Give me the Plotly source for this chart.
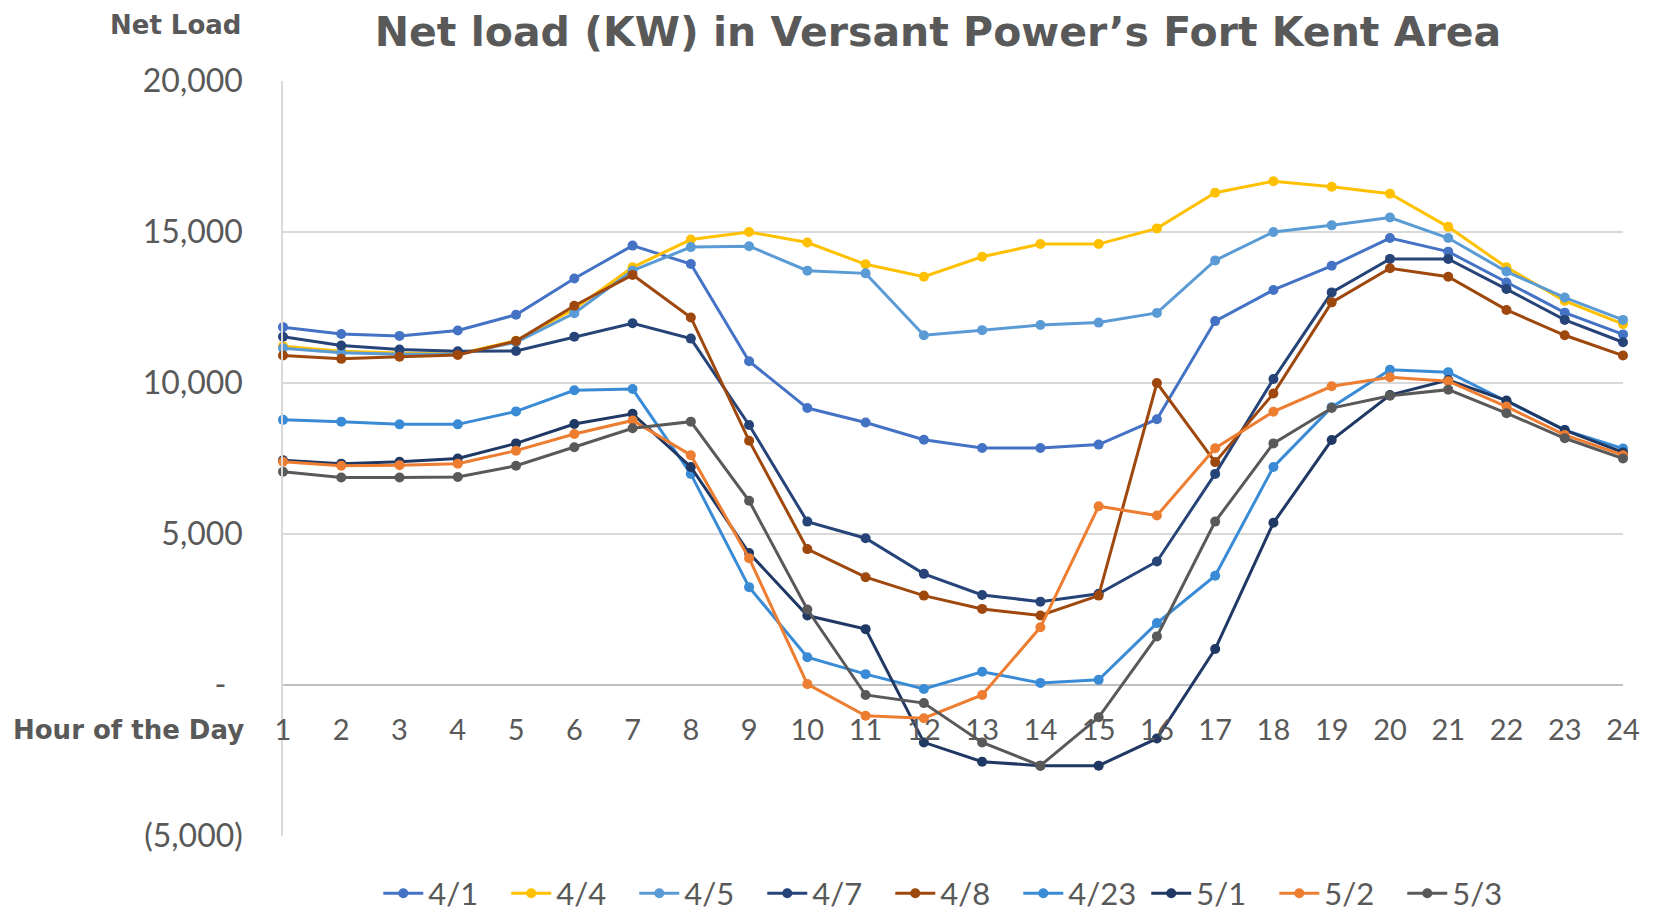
import plotly.graph_objects as go

hours = list(range(1, 25))

dates = ["4/1", "4/4", "4/5", "4/7", "4/8", "4/23", "5/1", "5/2", "5/3"]

load_4_1 = [11850, 11620, 11560, 11740, 12260, 13460, 14550, 13940, 10720, 9170, 8690, 8120,
            7850, 7850, 7960, 8800, 12050, 13080, 13880, 14800, 14350, 13330, 12330, 11610]
load_4_4 = [11220, 11050, 10990, 10960, 11400, 12450, 13830, 14750, 15000, 14650, 13930, 13520,
            14180, 14600, 14600, 15120, 16300, 16680, 16500, 16270, 15170, 13830, 12720, 11950]
load_4_5 = [11150, 11000, 10950, 10950, 11350, 12310, 13720, 14500, 14530, 13720, 13630, 11580,
            11750, 11920, 12000, 12320, 14060, 15000, 15220, 15480, 14800, 13690, 12830, 12090]
load_4_7 = [11530, 11240, 11110, 11050, 11060, 11530, 11980, 11470, 8610, 5410, 4860, 3680,
            2980, 2760, 3020, 4090, 6990, 10130, 13000, 14110, 14110, 13110, 12090, 11350]
load_4_8 = [10910, 10800, 10870, 10930, 11390, 12560, 13580, 12170, 8090, 4500, 3570, 2960,
            2520, 2300, 2960, 10000, 7380, 9650, 12670, 13800, 13520, 12420, 11580, 10910]
load_4_23 = [8780, 8720, 8630, 8630, 9060, 9760, 9800, 6990, 3240, 920, 360, -130,
             440, 70, 170, 2050, 3620, 7220, 9200, 10440, 10360, 9390, 8440, 7830]
load_5_1 = [7440, 7330, 7390, 7500, 8000, 8640, 8980, 7220, 4370, 2300, 1850, -1900,
            -2540, -2670, -2670, -1770, 1190, 5370, 8110, 9600, 10100, 9420, 8440, 7700]
load_5_2 = [7390, 7260, 7280, 7330, 7760, 8310, 8760, 7610, 4200, 30, -1020, -1100,
            -330, 1910, 5920, 5610, 7840, 9050, 9890, 10190, 10060, 9220, 8280, 7610]
load_5_3 = [7060, 6870, 6870, 6890, 7260, 7870, 8500, 8720, 6100, 2500, -330, -600,
            -1900, -2670, -1070, 1610, 5410, 8000, 9170, 9580, 9780, 9000, 8170, 7500]

series = [load_4_1, load_4_4, load_4_5, load_4_7, load_4_8, load_4_23, load_5_1, load_5_2, load_5_3]
colors = ["#4472C4", "#FFC000", "#5B9BD5", "#264478", "#9E480E", "#3A8BD6", "#1F3864", "#ED7D31", "#595959"]

y_ticks = [-5000, 0, 5000, 10000, 15000, 20000]
y_labels = ["(5,000)", "-\u00a0\u00a0", "5,000", "10,000", "15,000", "20,000"]

grey = "#595959"

fig = go.Figure()
for name, vals, col in zip(dates, series, colors):
    fig.add_trace(go.Scatter(
        x=hours, y=vals, name=name, mode="lines+markers",
        line=dict(color=col, width=3),
        marker=dict(color=col, size=10),
        cliponaxis=False,
    ))

# page body has an 8px margin, so the figure is 8px smaller than the window
fig.update_layout(
    width=1650, height=904,
    margin=dict(l=275, r=35, t=73, b=76),
    plot_bgcolor="white", paper_bgcolor="white",
    title=dict(text="Net load (KW) in Versant Power’s Fort Kent Area",
               font=dict(family="DejaVu Sans", size=41, color=grey, weight="bold"),
               x=0.5636, xref="container", xanchor="center",
               y=0.9735, yref="container", yanchor="middle"),
    legend=dict(orientation="h", xref="container", yref="container",
                x=0.5735, xanchor="center", y=0.0204, yanchor="middle",
                font=dict(family="Lato", size=31, color=grey),
                entrywidth=73, itemwidth=40),
    xaxis=dict(range=[1, 24], tickvals=hours, anchor="free", position=0.2,
               showgrid=False, showline=False, zeroline=False, ticks="",
               ticklabelstandoff=25, automargin=False,
               tickfont=dict(family="Lato", size=29, color=grey)),
    yaxis=dict(range=[-5000, 20000], tickvals=y_ticks, ticktext=y_labels,
               showgrid=True, gridcolor="#D9D9D9", gridwidth=1.5,
               showline=True, linecolor="#D9D9D9", linewidth=1.5,
               zeroline=True, zerolinecolor="#BFBFBF", zerolinewidth=1.5,
               ticks="", ticklabelstandoff=32, automargin=False,
               tickfont=dict(family="Lato", size=32, color=grey)),
)

fig.add_annotation(text="Net Load", xref="paper", yref="paper", x=-0.0299, y=1.0742,
                   xanchor="right", yanchor="middle", showarrow=False,
                   font=dict(family="DejaVu Sans", size=26, color=grey, weight="bold"))
fig.add_annotation(text="Hour of the Day", xref="paper", yref="paper", x=-0.0276, y=0.1404,
                   xanchor="right", yanchor="middle", showarrow=False,
                   font=dict(family="DejaVu Sans", size=26, color=grey, weight="bold"))

fig.write_html("out.html")
